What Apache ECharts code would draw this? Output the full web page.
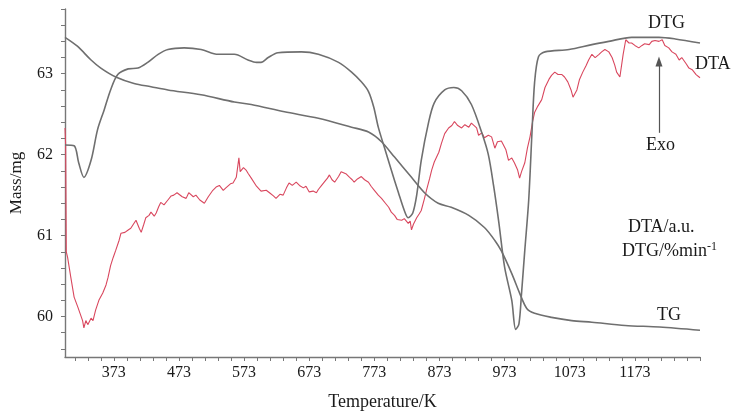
<!DOCTYPE html>
<html>
<head>
<meta charset="utf-8">
<script src="https://cdn.jsdelivr.net/npm/echarts@6/dist/echarts.min.js"></script>
<style>
html,body{margin:0;padding:0;background:#fff;}
#c{width:738px;height:414px;}
</style>
</head>
<body>
<div id="c"></div>
<script>
// Temperature (K) and values
var tgT = [298,317,338,353,376,404,430,456,507,558,584,635,687,738,764,784,804,830,850,871,891,918,942,958,968,984,996,1007,1019,1045,1076,1107,1158,1211,1273];
var tgV = [63.45,63.34,63.17,63.07,62.96,62.88,62.84,62.80,62.74,62.65,62.62,62.53,62.45,62.34,62.28,62.16,61.97,61.72,61.53,61.40,61.35,61.25,61.10,60.94,60.81,60.53,60.29,60.10,60.04,59.99,59.95,59.93,59.89,59.87,59.83];

var dtgT = [298,312,319,327,338,348,358,368,379,395,410,425,441,456,481,507,533,558,579,592,599,610,625,661,687,718,738,753,764,772,779,788,799,810,819,825,832,838,845,856,865,881,895,907,922,938,948,956,964,973,984,990,995,999,1004,1010,1015,1019,1025,1035,1072,1107,1133,1168,1210,1235,1273];
var dtgV = [62.12,62.11,61.90,61.72,61.93,62.31,62.55,62.80,62.99,63.06,63.07,63.14,63.24,63.30,63.32,63.30,63.24,63.24,63.17,63.14,63.14,63.20,63.26,63.27,63.24,63.14,63.02,62.90,62.78,62.59,62.34,62.10,61.81,61.53,61.31,61.22,61.28,61.50,61.93,62.39,62.64,62.80,62.83,62.79,62.62,62.27,62.00,61.62,61.17,60.61,60.20,59.84,59.91,60.29,60.82,61.44,62.27,62.89,63.21,63.27,63.30,63.36,63.40,63.45,63.45,63.43,63.38];

var dtaT = [298,299,300,302,307,312,318,325,327,330,333,338,341,345,350,356,361,364,368,372,376,381,384,390,395,399,402,407,412,415,419,422,427,430,435,438,442,445,450,456,461,465,470,473,478,484,488,495,499,505,512,518,525,530,535,541,545,552,556,561,565,567,572,576,579,584,587,592,595,599,602,607,612,618,622,628,633,638,642,647,653,658,664,668,673,679,684,687,692,696,701,704,708,712,718,722,725,730,735,739,742,747,753,758,764,768,773,779,784,790,795,799,804,808,815,819,825,828,830,833,838,842,845,850,853,858,861,865,872,876,881,887,892,896,901,907,912,918,922,925,930,933,938,942,948,953,958,962,968,975,979,984,988,993,996,999,1004,1008,1012,1016,1019,1024,1030,1035,1041,1045,1050,1055,1061,1065,1070,1075,1078,1084,1088,1093,1098,1102,1107,1112,1118,1122,1127,1133,1138,1142,1145,1150,1155,1159,1164,1168,1173,1179,1184,1188,1195,1199,1204,1210,1215,1219,1225,1230,1236,1241,1245,1252,1256,1261,1267,1273];
var dtaV = [62.33,62.12,60.80,60.73,60.48,60.24,60.11,59.95,59.86,59.95,59.90,59.98,59.95,60.08,60.20,60.29,60.39,60.48,60.63,60.73,60.82,60.94,61.03,61.04,61.07,61.09,61.10,61.19,61.09,61.04,61.14,61.22,61.25,61.29,61.24,61.28,61.36,61.41,61.38,61.44,61.49,61.50,61.53,61.54,61.48,61.46,61.53,61.48,61.50,61.44,61.40,61.48,61.56,61.60,61.62,61.56,61.59,61.64,61.65,61.72,61.96,61.79,61.84,61.81,61.77,61.71,61.69,61.61,61.59,61.55,61.54,61.56,61.53,61.49,61.46,61.51,61.50,61.59,61.65,61.62,61.66,61.62,61.59,61.61,61.54,61.55,61.53,61.57,61.62,61.66,61.71,61.75,61.69,61.66,61.73,61.79,61.81,61.76,61.72,61.69,61.66,61.70,61.73,61.69,61.66,61.61,61.56,61.50,61.46,61.40,61.35,61.29,61.25,61.20,61.19,61.21,61.15,61.18,61.07,61.14,61.22,61.27,61.31,61.46,61.56,61.71,61.81,61.91,62.03,62.14,62.26,62.33,62.36,62.41,62.36,62.33,62.37,62.34,62.39,62.41,62.33,62.24,62.27,62.21,62.24,62.22,62.08,62.16,62.17,62.06,61.93,61.96,61.90,61.81,61.71,61.79,61.90,62.08,62.22,62.41,62.52,62.60,62.68,62.83,62.93,62.98,63.02,62.99,62.99,62.96,62.90,62.80,62.71,62.80,62.93,63.02,63.10,63.17,63.24,63.20,63.24,63.27,63.30,63.27,63.20,63.11,63.02,62.96,63.24,63.42,63.38,63.38,63.35,63.32,63.35,63.37,63.36,63.40,63.41,63.40,63.42,63.35,63.32,63.27,63.24,63.17,63.20,63.12,63.07,63.05,62.99,62.95];

var xLabels = [373,473,573,673,773,873,973,1073,1173];
var yLabels = [60,61,62,63];
var exoArrowT = 1210;
var exoArrowV = [62.27, 63.15];

function pairs(t, v){ var o=[]; for (var i=0;i<t.length;i++) o.push([t[i], v[i]]); return o; }
var xTicks = []; for (var k = 313; k <= 1273; k += 20) xTicks.push(k);
var yTicks = []; for (var j = 0; j <= 21; j++) yTicks.push(Math.round((59.6 + j*0.2)*10)/10);

var FONT = 'Liberation Serif';
var chart = echarts.init(document.getElementById('c'), null, {renderer:'canvas'});
var grayLine = {color:'#6f6f6f', width:1.6};
chart.setOption({
  animation:false,
  backgroundColor:'#fff',
  grid:{left:65, right:38, top:9, bottom:57, containLabel:false, outerBoundsMode:'none'},
  xAxis:{
    type:'value', min:298, max:1273,
    name:'Temperature/K', nameLocation:'middle', nameGap:36,
    nameTextStyle:{fontFamily:FONT, fontSize:18, color:'#1a1a1a'},
    axisLine:{lineStyle:{color:'#777', width:1.4}},
    axisTick:{show:true, customValues:xTicks, length:4, lineStyle:{color:'#777'}},
    axisLabel:{customValues:xLabels, formatter:function(v){return String(v);}, fontFamily:FONT, fontSize:16, color:'#1a1a1a', margin:8},
    splitLine:{show:false}
  },
  yAxis:[{
    type:'value', min:59.5, max:63.8,
    name:'Mass/mg', nameLocation:'middle', nameGap:40,
    nameTextStyle:{fontFamily:FONT, fontSize:17, color:'#1a1a1a'},
    axisLine:{show:true, lineStyle:{color:'#777', width:1.4}},
    axisTick:{show:true, customValues:yTicks, length:4, lineStyle:{color:'#777'}},
    axisLabel:{customValues:yLabels, formatter:function(v){return String(v);}, fontFamily:FONT, fontSize:16, color:'#1a1a1a', margin:12},
    splitLine:{show:false}
  },{
    type:'value', min:59.5, max:63.8, show:false, splitLine:{show:false}
  }],
  series:[
    {name:'TG', type:'line', yAxisIndex:0, data:pairs(tgT,tgV), showSymbol:false, smooth:0.3, lineStyle:grayLine, z:3},
    {name:'DTG', type:'line', yAxisIndex:1, data:pairs(dtgT,dtgV), showSymbol:false, smooth:0.3, lineStyle:grayLine, z:3},
    {name:'DTA', type:'line', yAxisIndex:1, data:pairs(dtaT,dtaV), showSymbol:false, lineStyle:{color:'#d9475e', width:1.1}, z:2,
     markLine:{silent:true, symbol:['none','triangle'], symbolSize:[7,10],
       lineStyle:{color:'#555', width:1.2, type:'solid'}, label:{show:false},
       data:[[{coord:[exoArrowT, exoArrowV[0]]},{coord:[exoArrowT, exoArrowV[1]]}]]}}
  ],
  graphic:[
    {type:'text', left:648, top:14, style:{text:'DTG', font:'18px "Liberation Serif"', fill:'#1a1a1a'}},
    {type:'text', left:695, top:55, style:{text:'DTA', font:'18px "Liberation Serif"', fill:'#1a1a1a'}},
    {type:'text', left:646, top:136, style:{text:'Exo', font:'18px "Liberation Serif"', fill:'#1a1a1a'}},
    {type:'text', left:657, top:306, style:{text:'TG', font:'18px "Liberation Serif"', fill:'#1a1a1a'}},
    {type:'text', left:628, top:218, style:{text:'DTA/a.u.', font:'18px "Liberation Serif"', fill:'#1a1a1a'}},
    {type:'text', left:622, top:241, style:{
      text:'DTG/%min{s|-1}', font:'18px "Liberation Serif"', fill:'#1a1a1a',
      rich:{s:{fontFamily:FONT, fontSize:12, verticalAlign:'top', fill:'#1a1a1a', padding:[0,0,8,0]}}}}
  ]
});
</script>
</body>
</html>
